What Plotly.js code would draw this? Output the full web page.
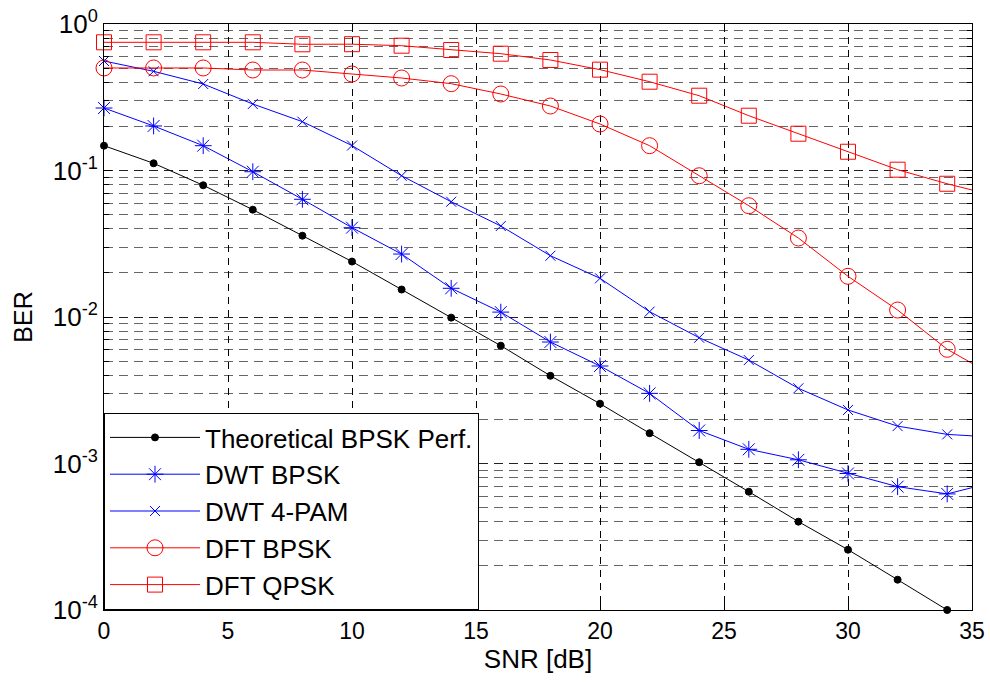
<!DOCTYPE html>
<html>
<head>
<meta charset="utf-8">
<script src="https://cdn.plot.ly/plotly-3.0.1.min.js"></script>
<style>html,body{margin:0;padding:0;background:#fff;}#chart{width:990px;height:682px;}</style>
</head>
<body>
<div id="chart"></div>
<script>
// SNR values (dB); the 36 dB point lies beyond the axis and is clipped
const snr = [0, 2, 4, 6, 8, 10, 12, 14, 16, 18, 20, 22, 24, 26, 28, 30, 32, 34, 36];

const theoBPSK = [0.1477, 0.112, 0.0793, 0.054, 0.0359, 0.0239, 0.0154, 0.0099, 0.00637, 0.00397, 0.00256, 0.00161, 0.00102, 0.000642, 0.000401, 0.000258, 0.000161, 0.0001, 0.00006];
const dwtBPSK  = [0.267, 0.2014, 0.1477, 0.0981, 0.0636, 0.0407, 0.0269, 0.0157, 0.0108, 0.00675, 0.00463, 0.00301, 0.00168, 0.00125, 0.00106, 0.000855, 0.000695, 0.00062, 0.000755];
const dwtPAM4  = [0.559, 0.4755, 0.3895, 0.2844, 0.2154, 0.148, 0.0921, 0.0612, 0.0418, 0.0262, 0.01837, 0.01087, 0.00722, 0.00508, 0.00326, 0.00232, 0.0018, 0.00158, 0.00151];
const dftBPSK  = [0.501, 0.501, 0.501, 0.4853, 0.4853, 0.4557, 0.428, 0.3914, 0.3328, 0.2756, 0.2077, 0.1477, 0.0921, 0.0575, 0.0346, 0.01896, 0.01116, 0.00602, 0.00388];
const dftQPSK  = [0.750, 0.750, 0.750, 0.750, 0.727, 0.728, 0.711, 0.6646, 0.627, 0.568, 0.488, 0.4037, 0.324, 0.2366, 0.1783, 0.1343, 0.1013, 0.0812, 0.0667];

const seriesNames = ['Theoretical BPSK Perf.', 'DWT BPSK', 'DWT 4-PAM', 'DFT BPSK', 'DFT QPSK'];
const xTicks = [0, 5, 10, 15, 20, 25, 30, 35];
const yTickVals = [1e-4, 1e-3, 1e-2, 1e-1, 1];
const yTickText = ['10<sup>-4</sup>', '10<sup>-3</sup>', '10<sup>-2</sup>', '10<sup>-1</sup>', '10<sup>0</sup>'];

function tr(name, y, color, symbol, size) {
  return {
    x: snr, y: y, name: name, type: 'scatter', mode: 'lines+markers',
    cliponaxis: false,
    line: {color: color, width: 1},
    marker: {symbol: symbol, size: size, color: color,
             line: {color: color, width: 1}}
  };
}

const data = [
  tr(seriesNames[0], theoBPSK, '#000000', 'circle', 7),
  tr(seriesNames[1], dwtBPSK, '#0000ff', 'asterisk-open', 14),
  tr(seriesNames[2], dwtPAM4, '#0000ff', 'x-thin-open', 10),
  tr(seriesNames[3], dftBPSK, '#ff0000', 'circle-open', 16),
  tr(seriesNames[4], dftQPSK, '#ff0000', 'square-open', 15)
];

const fam = '"Liberation Sans", Arial, sans-serif';

const layout = {
  width: 990, height: 682,
  margin: {l: 104, r: 18, t: 24, b: 72},
  paper_bgcolor: '#fff', plot_bgcolor: '#fff',
  font: {family: fam, color: '#000', size: 22},
  showlegend: true,
  legend: {
    x: 0, y: 0, xanchor: 'left', yanchor: 'bottom',
    bgcolor: '#fff', bordercolor: '#000', borderwidth: 1,
    font: {family: fam, size: 26, color: '#000'},
    itemwidth: 90, tracegroupgap: 0
  },
  xaxis: {
    range: [0, 35], tickvals: xTicks, ticktext: xTicks.map(String),
    showline: true, linecolor: '#000', linewidth: 1, mirror: 'allticks',
    ticks: 'inside', ticklen: 8, tickcolor: '#000',
    showgrid: true, gridcolor: '#000', griddash: '7px,6px', gridwidth: 1,
    zeroline: false,
    tickfont: {family: fam, size: 23, color: '#000'},
    title: {text: 'SNR [dB]', font: {family: fam, size: 26, color: '#000'}, standoff: 4}
  },
  yaxis: {
    type: 'log', range: [-4, 0],
    tickvals: yTickVals, ticktext: yTickText,
    showline: true, linecolor: '#000', linewidth: 1, mirror: 'allticks',
    ticks: 'inside', ticklen: 8, tickcolor: '#000',
    showgrid: true, gridcolor: '#222', griddash: '9px,6px', gridwidth: 1,
    zeroline: false,
    tickfont: {family: fam, size: 26, color: '#000'},
    title: {text: 'BER', font: {family: fam, size: 25, color: '#000'}, standoff: 12},
    minor: {dtick: 'D1', ticks: 'inside', ticklen: 5, tickcolor: '#000',
            showgrid: true, gridcolor: '#666', griddash: '9px,6px', gridwidth: 1}
  }
};

Plotly.newPlot('chart', data, layout, {displayModeBar: false, staticPlot: true});
</script>
</body>
</html>
